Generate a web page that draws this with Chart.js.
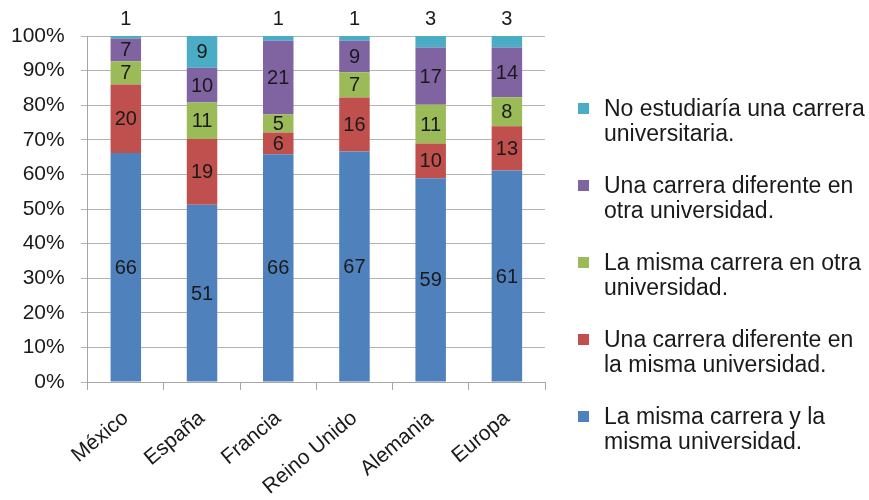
<!DOCTYPE html>
<html>
<head>
<meta charset="utf-8">
<script src="https://cdn.jsdelivr.net/npm/chart.js@4"></script>
<style>
    html, body { margin: 0; padding: 0; background: #fff; }
    #wrap { position: relative; width: 869px; height: 500px; }
    #legend {
        position: absolute; left: 578px; top: 96px; width: 291px;
        font-family: "Liberation Sans", Arial, sans-serif; font-size: 23px; color: #1a1a1a;
        line-height: 25px; white-space: nowrap;
    }
    .item { position: relative; padding-left: 26px; margin-bottom: 27px; }
    .box { position: absolute; left: 0; top: 7px; width: 11px; height: 11px; }
</style>
</head>
<body>
<div id="wrap">
    <canvas id="chart" width="869" height="500"></canvas>
    <div id="legend"></div>
</div>
<script>
const categories = ["México", "España", "Francia", "Reino Unido", "Alemania", "Europa"];
const seriesNames = [
    "La misma carrera y la misma universidad.",
    "Una carrera diferente en la misma universidad.",
    "La misma carrera en otra universidad.",
    "Una carrera diferente en otra universidad.",
    "No estudiaría una carrera universitaria."
];
const seriesColors = ["#4F81BD", "#C0504D", "#9BBB59", "#8064A2", "#4BACC6"];
// percentages; labels are these values rounded
const mismaCarreraMismaUni = [66.2, 51.2, 65.8, 66.6, 58.9, 61.1];
const diferenteMismaUni = [19.8, 19.0, 6.3, 15.6, 10.0, 12.8];
const mismaCarreraOtraUni = [6.7, 10.6, 5.2, 7.3, 11.2, 8.4];
const diferenteOtraUni = [6.6, 10.0, 21.3, 9.1, 16.6, 14.4];
const noEstudiaria = [0.7, 9.2, 1.4, 1.4, 3.3, 3.3];
const yTicks = [0, 10, 20, 30, 40, 50, 60, 70, 80, 90, 100];

const series = [mismaCarreraMismaUni, diferenteMismaUni, mismaCarreraOtraUni, diferenteOtraUni, noEstudiaria];

const datasets = series.map((arr, k) => ({
    label: seriesNames[k],
    data: arr,
    backgroundColor: seriesColors[k],
    barPercentage: 0.4,
    categoryPercentage: 1
}));

// legend on the right, reversed order like the original
const legendEl = document.getElementById('legend');
const legendText = [
    ["No estudiaría una carrera", "universitaria."],
    ["Una carrera diferente en", "otra universidad."],
    ["La misma carrera en otra", "universidad."],
    ["Una carrera diferente en", "la misma universidad."],
    ["La misma carrera y la", "misma universidad."]
];
legendText.forEach((lines, j) => {
    const k = 4 - j;
    const div = document.createElement('div');
    div.className = 'item';
    div.innerHTML = `<span class="box" style="background:${seriesColors[k]}"></span>${lines.join('<br>')}`;
    legendEl.appendChild(div);
});

const valueLabels = {
    id: 'valueLabels',
    afterDatasetsDraw(chart) {
        const ctx = chart.ctx;
        ctx.save();
        ctx.font = '20px "Liberation Sans", Arial, sans-serif';
        ctx.fillStyle = '#1a1a1a';
        ctx.textAlign = 'center';
        ctx.textBaseline = 'middle';
        chart.data.datasets.forEach((ds, k) => {
            chart.getDatasetMeta(k).data.forEach((bar, i) => {
                const h = Math.abs(bar.base - bar.y);
                let y = (bar.y + bar.base) / 2;
                if (h < 14) y = bar.y - 18;
                ctx.fillText(String(Math.round(ds.data[i])), bar.x, y + 1);
            });
        });
        ctx.restore();
    }
};

new Chart(document.getElementById('chart'), {
    type: 'bar',
    data: { labels: categories, datasets: datasets },
    options: {
        responsive: false,
        animation: false,
        layout: { padding: { top: 36, right: 324, left: -5, bottom: 0 } },
        plugins: {
            legend: { display: false },
            tooltip: { enabled: false }
        },
        scales: {
            x: {
                stacked: true,
                grid: { offset: true, drawOnChartArea: false, tickLength: 8, color: '#a6a6a6' },
                border: { color: '#a6a6a6' },
                ticks: {
                    minRotation: 40, maxRotation: 40,
                    padding: 16,
                    color: '#1a1a1a',
                    font: { family: '"Liberation Sans", Arial, sans-serif', size: 21 }
                },
                afterFit: scale => { scale.height = 118; }
            },
            y: {
                stacked: true,
                min: 0, max: 100,
                afterBuildTicks: axis => { axis.ticks = yTicks.map(v => ({ value: v })); },
                grid: { color: '#b3b3b3', tickLength: 7 },
                border: { color: '#a6a6a6' },
                ticks: {
                    color: '#1a1a1a',
                    padding: 16,
                    font: { family: '"Liberation Sans", Arial, sans-serif', size: 21 },
                    callback: v => v + '%'
                }
            }
        }
    },
    plugins: [valueLabels]
});
</script>
</body>
</html>
